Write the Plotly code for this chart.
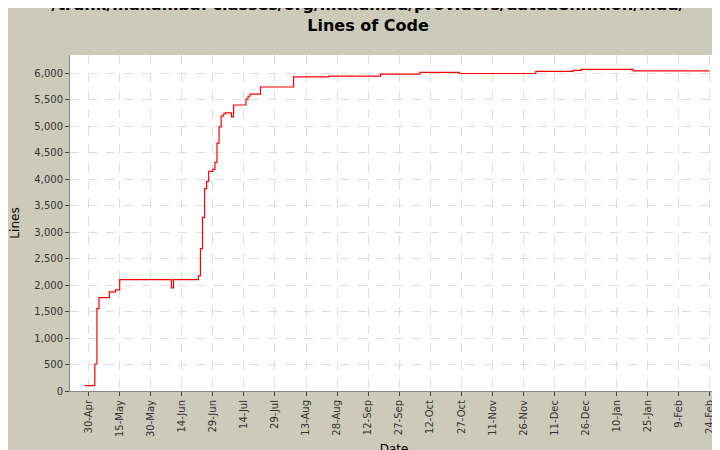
import plotly.graph_objects as go

dates = ["2002-04-28","2002-05-03","2002-05-04","2002-05-05","2002-05-10","2002-05-13","2002-05-15",
         "2002-06-09","2002-06-10","2002-06-22","2002-06-23","2002-06-24","2002-06-25","2002-06-26","2002-06-27",
         "2002-06-29","2002-06-30","2002-07-01","2002-07-02","2002-07-03","2002-07-04","2002-07-05",
         "2002-07-08","2002-07-09","2002-07-15","2002-07-16","2002-07-17","2002-07-22","2002-08-07",
         "2002-08-24","2002-09-18","2002-10-07","2002-10-26","2002-12-02","2002-12-20","2002-12-24",
         "2003-01-18","2003-02-24"]
lines = [100,510,1555,1765,1875,1910,2105,
         1950,2105,2175,2690,3280,3825,3960,4150,
         4190,4320,4685,4990,5195,5235,5255,
         5180,5405,5515,5570,5610,5745,5935,
         5950,5990,6020,6000,6040,6060,6080,
         6050,6050]
tick_dates = ["2002-04-30","2002-05-15","2002-05-30","2002-06-14","2002-06-29","2002-07-14","2002-07-29",
              "2002-08-13","2002-08-28","2002-09-12","2002-09-27","2002-10-12","2002-10-27","2002-11-11",
              "2002-11-26","2002-12-11","2002-12-26","2003-01-10","2003-01-25","2003-02-09","2003-02-24"]

fig = go.Figure(go.Scatter(x=dates, y=lines, mode="lines", line=dict(color="#ff0000", width=1.2, shape="hv")))
fig.update_layout(
    width=720, height=450, paper_bgcolor="#cccbb9", plot_bgcolor="white",
    margin=dict(l=62, r=10, t=47, b=67, autoexpand=False),
    title=dict(text="<b>/trunk/makumba: classes/org/makumba/providers/datadefinition/mdd/<br>Lines of Code</b>",
               x=0.5, xanchor="center", y=0.995, yref="container", yanchor="top",
               font=dict(family="DejaVu Sans", size=16, color="#000")),
    font=dict(family="DejaVu Sans", size=10, color="#333"),
    showlegend=False,
)
fig.update_xaxes(range=["2002-04-21","2003-02-28"], tickvals=tick_dates, tickformat="%-d-%b", tickangle=-90,
                 showgrid=True, gridcolor="#dddddd", griddash="dash", ticks="outside", ticklen=4, automargin=False,
                 title=dict(text="Date", font=dict(size=12, color="#000"), standoff=8), showline=True, linecolor="#888")
fig.update_yaxes(range=[0, 6350], dtick=500, tickformat=",", showgrid=True, gridcolor="#dddddd", griddash="dash",
                 ticks="outside", ticklen=4, automargin=False, title=dict(text="Lines", font=dict(size=12, color="#000")),
                 showline=True, linecolor="#888", zeroline=False)
fig.write_html("out.html")
